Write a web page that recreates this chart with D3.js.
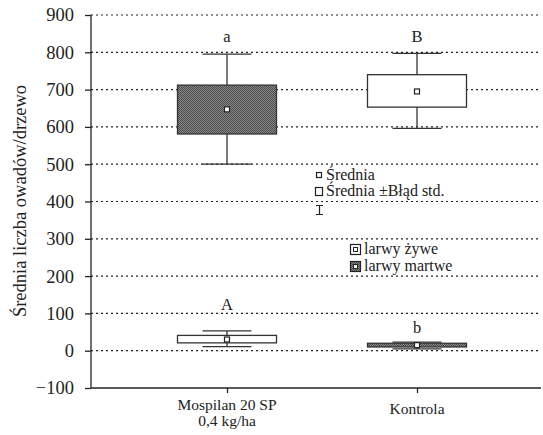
<!DOCTYPE html>
<html>
<head>
<meta charset="utf-8">
<script src="https://cdn.jsdelivr.net/npm/d3@7"></script>
<style>
  body { margin: 0; background: #fff; }
  svg { display: block; font-family: "Liberation Serif", "DejaVu Serif", serif; }
</style>
</head>
<body>
<div id="chart"></div>
<script>
// Categories (x axis), each label can span two lines
const categories = ["Mospilan 20 SP|0,4 kg/ha", "Kontrola"];
const yTicks = [-100, 0, 100, 200, 300, 400, 500, 600, 700, 800, 900];

// larwy żywe (white boxes)
const liveMean   = [30, 695];
const liveSeLow  = [21, 653];
const liveSeHigh = [41, 740];
const liveMin    = [11, 596];
const liveMax    = [53, 797];
const liveLetter = ["A", "B"];
const liveLetterAt = [110, 828];

// larwy martwe (dark boxes)
const deadMean   = [647, 15];
const deadSeLow  = [581, 10];
const deadSeHigh = [712, 20];
const deadMin    = [500, 5];
const deadMax    = [795, 23];
const deadLetter = ["a", "b"];
const deadLetterAt = [828, 48];

const W = 543, H = 435;
const plotLeft = 91, plotRight = 541, plotTop = 15, plotBottom = 388;

const svg = d3.select("#chart").append("svg")
    .attr("width", W).attr("height", H);

// stipple fill for the dark boxes
const defs = svg.append("defs");
const pat = defs.append("pattern")
    .attr("id", "dark")
    .attr("width", 2).attr("height", 2)
    .attr("patternUnits", "userSpaceOnUse");
pat.append("rect").attr("width", 2).attr("height", 2).attr("fill", "#8a8a8a");
pat.append("rect").attr("width", 1).attr("height", 1).attr("fill", "#4a4a4a");
pat.append("rect").attr("x", 1).attr("y", 1).attr("width", 1).attr("height", 1).attr("fill", "#4a4a4a");

const y = d3.scaleLinear().domain([-100, 900]).range([plotBottom, plotTop]);
const x = d3.scalePoint().domain(categories).range([227, 417]);

// dotted grid lines
svg.append("g")
    .selectAll("line")
    .data(yTicks.filter(d => d > -100))
    .join("line")
    .attr("x1", plotLeft).attr("x2", plotRight)
    .attr("y1", d => y(d)).attr("y2", d => y(d))
    .attr("stroke", "#222")
    .attr("stroke-width", 1.2)
    .attr("stroke-dasharray", "2,3");

// y axis
const yAxis = svg.append("g")
    .attr("transform", `translate(${plotLeft},0)`)
    .call(d3.axisLeft(y).tickValues(yTicks).tickSize(6).tickPadding(11)
        .tickFormat(d => d < 0 ? "\u2212" + Math.abs(d) : d));
yAxis.select(".domain").attr("d", `M0,${plotTop}V${plotBottom}`).attr("stroke", "#222").attr("stroke-width", 1.3);
yAxis.selectAll(".tick line").attr("stroke", "#222").attr("stroke-width", 1.3);
yAxis.selectAll("text").attr("font-size", 18.5).attr("fill", "#222")
    .attr("font-family", "Liberation Serif, serif");

// x axis
const xAxis = svg.append("g")
    .attr("transform", `translate(0,${plotBottom})`)
    .call(d3.axisBottom(x).tickSize(5).tickFormat(""));
xAxis.select(".domain").attr("d", `M${plotLeft},0H${plotRight}`).attr("stroke", "#222").attr("stroke-width", 1.3);
xAxis.selectAll(".tick line").attr("stroke", "#222").attr("stroke-width", 1.3);

// category labels
categories.forEach(c => {
    const lines = c.split("|");
    const t = svg.append("text")
        .attr("x", x(c))
        .attr("text-anchor", "middle")
        .attr("font-size", 15.5)
        .attr("fill", "#222");
    const y0 = lines.length > 1 ? 410 : 414;
    lines.forEach((l, i) => {
        t.append("tspan").attr("x", x(c)).attr("y", y0 + i * 16).text(l);
    });
});

// y axis title
svg.append("text")
    .attr("transform", `translate(26,201) rotate(-90)`)
    .attr("text-anchor", "middle")
    .attr("font-size", 18.5)
    .attr("fill", "#222")
    .text("Średnia liczba owadów/drzewo");

// box + whisker drawing
const boxW = 99, capW = 49, meanS = 5;
function drawSeries(mean, lo, hi, mn, mx, letters, letterAt, fill) {
    const g = svg.append("g");
    categories.forEach((c, i) => {
        const cx = x(c);
        // whisker
        g.append("line").attr("x1", cx).attr("x2", cx)
            .attr("y1", y(mn[i])).attr("y2", y(mx[i]))
            .attr("stroke", "#333").attr("stroke-width", 1.3);
        [mn[i], mx[i]].forEach(v => {
            g.append("line").attr("x1", cx - capW / 2).attr("x2", cx + capW / 2)
                .attr("y1", y(v)).attr("y2", y(v))
                .attr("stroke", "#333").attr("stroke-width", 1.3);
        });
        // box
        g.append("rect")
            .attr("x", cx - boxW / 2).attr("width", boxW)
            .attr("y", y(hi[i])).attr("height", Math.max(1, y(lo[i]) - y(hi[i])))
            .attr("fill", fill).attr("stroke", "#333").attr("stroke-width", 1.3);
        // mean marker
        g.append("rect")
            .attr("x", cx - meanS / 2).attr("y", y(mean[i]) - meanS / 2)
            .attr("width", meanS).attr("height", meanS)
            .attr("fill", "#fff").attr("stroke", "#222").attr("stroke-width", 1.2);
        // significance letter
        g.append("text")
            .attr("x", cx).attr("y", y(letterAt[i]))
            .attr("text-anchor", "middle")
            .attr("font-size", 16.5).attr("fill", "#222")
            .text(letters[i]);
    });
}
drawSeries(deadMean, deadSeLow, deadSeHigh, deadMin, deadMax, deadLetter, deadLetterAt, "url(#dark)");
drawSeries(liveMean, liveSeLow, liveSeHigh, liveMin, liveMax, liveLetter, liveLetterAt, "#fff");

// legend: statistics
const lg = svg.append("g").attr("font-size", 16).attr("fill", "#222");
lg.append("rect").attr("x", 316.5).attr("y", 172.5).attr("width", 5).attr("height", 5)
    .attr("fill", "#fff").attr("stroke", "#222").attr("stroke-width", 1.2);
lg.append("text").attr("x", 326).attr("y", 180).text("Średnia");
lg.append("rect").attr("x", 315.5).attr("y", 187.5).attr("width", 7).attr("height", 8)
    .attr("fill", "#fff").attr("stroke", "#222").attr("stroke-width", 1.2);
lg.append("text").attr("x", 326).attr("y", 196).text("Średnia ±Błąd std.");
lg.append("path").attr("d", "M316,205.5H323M319.5,205.5V214.5M316,214.5H323")
    .attr("fill", "none").attr("stroke", "#222").attr("stroke-width", 1.2);

// legend: series
const legendItems = [
    { label: "larwy żywe", fill: "#fff" },
    { label: "larwy martwe", fill: "url(#dark)" }
];
legendItems.forEach((d, i) => {
    const yy = 244 + i * 17;
    lg.append("rect").attr("x", 350.5).attr("y", yy + 0.5).attr("width", 10).attr("height", 10)
        .attr("fill", d.fill).attr("stroke", "#222").attr("stroke-width", 1.2);
    lg.append("rect").attr("x", 353.5).attr("y", yy + 3.5).attr("width", 4).attr("height", 4)
        .attr("fill", "#fff").attr("stroke", "#222").attr("stroke-width", 1);
    lg.append("text").attr("x", 364).attr("y", yy + 10).text(d.label);
});
</script>
</body>
</html>
